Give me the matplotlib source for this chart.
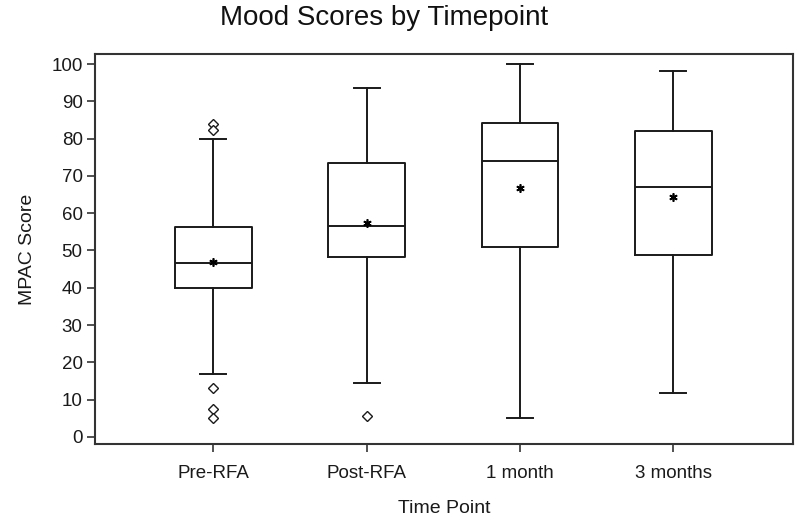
import matplotlib
matplotlib.use("Agg")
import matplotlib.pyplot as plt

categories = ["Pre-RFA", "Post-RFA", "1 month", "3 months"]
q1 = [40.0, 48.2, 51.0, 48.9]
medians = [46.6, 56.7, 74.1, 67.1]
q3 = [56.2, 73.4, 84.1, 82.1]
whisker_low = [17.0, 14.5, 5.0, 11.8]
whisker_high = [80.0, 93.5, 100.0, 98.2]
means = [47.0, 57.3, 66.8, 64.4]
outliers = [[84.0, 82.2, 13.0, 7.5, 5.0], [5.5], [], []]
yticks = [0, 10, 20, 30, 40, 50, 60, 70, 80, 90, 100]

plt.rcParams['font.family'] = ['Liberation Sans', 'DejaVu Sans']

fig = plt.figure(figsize=(8.0, 5.27), dpi=100)
ax = fig.add_axes([0.119, 0.1575, 0.872, 0.74])

stats = []
for i, c in enumerate(categories):
    stats.append(dict(label=c, q1=q1[i], med=medians[i], q3=q3[i],
                      whislo=whisker_low[i], whishi=whisker_high[i],
                      mean=means[i], fliers=outliers[i]))

lc = '#1a1a1a'
ax.bxp(stats, positions=range(1, 5), widths=0.5, capwidths=0.17,
       showmeans=True, showfliers=True,
       boxprops=dict(color=lc, linewidth=1.4),
       medianprops=dict(color=lc, linewidth=1.4),
       whiskerprops=dict(color=lc, linewidth=1.4),
       capprops=dict(color=lc, linewidth=1.4),
       meanprops=dict(marker=(6, 2, 0), markeredgecolor='black', markerfacecolor='black',
                      markersize=6, markeredgewidth=1.2),
       flierprops=dict(marker='D', markerfacecolor='white', markeredgecolor=lc,
                       markersize=5.5, markeredgewidth=1.0))

ax.set_xlim(0.23, 4.78)
ax.set_ylim(-1.9, 102.7)
ax.set_yticks(yticks)
ax.set_xticks(range(1, 5))
ax.set_xticklabels(categories)
for s in ax.spines.values():
    s.set_color('#333333')
    s.set_linewidth(1.5)
ax.tick_params(axis='both', direction='out', length=6, width=1.2, color='#333333',
               labelsize=13.5, labelcolor='#1a1a1a')
ax.tick_params(axis='y', pad=3)
ax.tick_params(axis='x', pad=9)

ax.set_ylabel("MPAC Score", fontsize=14, color='#1a1a1a', labelpad=11)
ax.set_xlabel("Time Point", fontsize=14, color='#1a1a1a', labelpad=13)
fig.text(0.275, 0.965, "Mood Scores by Timepoint", ha='left', va='center',
         fontsize=20, color='#111111')

fig.savefig("out.png", dpi=100)
